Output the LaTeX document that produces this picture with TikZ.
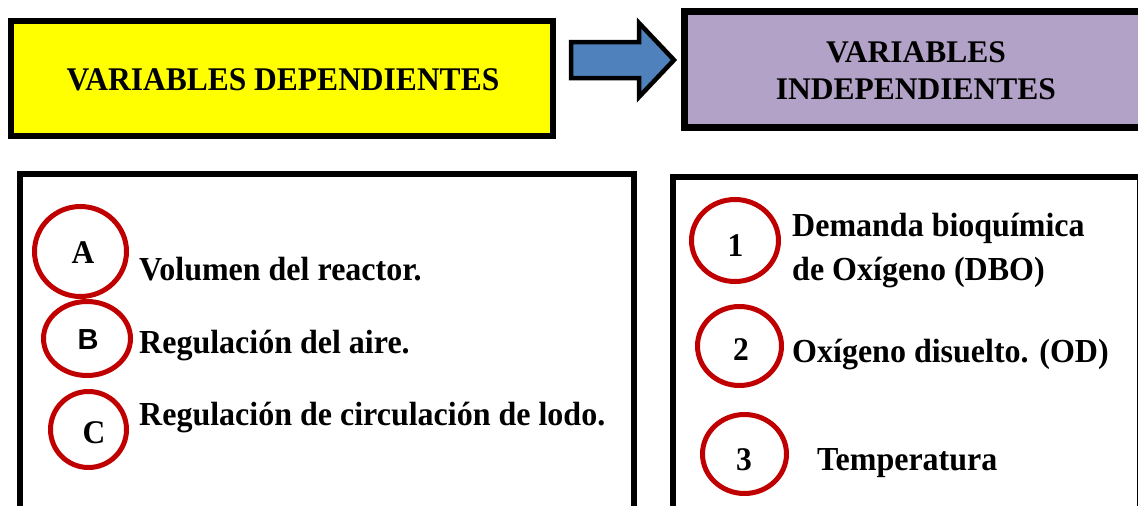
\documentclass[tikz,border=0pt]{standalone}
\usepackage{fontspec}
\usepackage{graphicx}
\setmainfont{Liberation Serif}
\newfontfamily\sansbf{Liberation Sans}
\usetikzlibrary{shapes.geometric}
\definecolor{ylw}{HTML}{FFFF00}
\definecolor{lila}{HTML}{B3A2C7}
\definecolor{azul}{HTML}{4F81BD}
\definecolor{rojo}{HTML}{C00000}
\newcommand{\tallbox}[1]{\scalebox{1}[1.05]{#1}}
\tikzset{
  hdrbox/.style={draw=black, line width=6.5pt},
  listbox/.style={draw=black, line width=6pt},
  ring/.style={ellipse, draw=rojo, line width=5pt, inner sep=0pt},
  txt/.style={anchor=base west, inner sep=0pt, font=\fontsize{32}{37}\selectfont\bfseries},
  lbl/.style={inner sep=0pt, font=\fontsize{31.5}{37}\selectfont\bfseries},
}
\begin{document}
\begin{tikzpicture}[x=1pt,y=-1pt]
\useasboundingbox (0,0) rectangle (1138,506);
% header boxes
\draw[hdrbox, fill=ylw] (11,21) rectangle (553,136);
\node[lbl] (dep) at (283,80) {\tallbox{VARIABLES DEPENDIENTES}};
\draw[hdrbox, fill=lila, line width=7pt] (684.5,11.5) rectangle (1160,127);
\node[lbl, align=center, font=\fontsize{31.5}{37}\selectfont\bfseries] (ind) at (916,71) {VARIABLES\\INDEPENDIENTES};
% arrow
\draw[black, line width=4.5pt, fill=azul, line join=miter]
  (571,42) -- (639,42) -- (639,23) -- (674,60) -- (639,97) -- (639,78) -- (571,78) -- cycle;
% list boxes
\draw[listbox] (20,174) rectangle (634,530);
\draw[listbox] (672.5,177) rectangle (1139.5,530);
% left items
\node[ring, minimum width=92pt, minimum height=90pt] (cA) at (80.5,251.5) {};
\node[lbl] (lA) at (83,253) {\tallbox{A}};
\node[txt] (tA) at (139,280) {\tallbox{Volumen del reactor.}};
\node[ring, minimum width=87pt, minimum height=74pt] (cB) at (87,338.5) {};
\node[lbl, font=\fontsize{29}{34}\selectfont\sansbf\bfseries] (lB) at (88,340) {B};
\node[txt] (tB) at (139,353) {\tallbox{Regulación del aire.}};
\node[ring, minimum width=76pt, minimum height=76pt] (cC) at (88.5,429.5) {};
\node[lbl] (lC) at (94,433) {\tallbox{C}};
\node[txt] (tC) at (139,425) {\tallbox{Regulación de circulación de lodo.}};
% right items
\node[ring, minimum width=87pt, minimum height=82pt] (c1) at (735,240.5) {};
\node[lbl] (l1) at (735.5,246) {\tallbox{1}};
\node[txt] (t1a) at (792,236) {\tallbox{Demanda bioquímica}};
\node[txt] (t1b) at (792,280) {\tallbox{de Oxígeno (DBO)}};
\node[ring, minimum width=84pt, minimum height=79pt] (c2) at (739.5,346) {};
\node[lbl] (l2) at (741,350) {\tallbox{2}};
\node[txt] (t2) at (792,362) {\tallbox{Oxígeno disuelto. (OD)}};
\node[ring, minimum width=84pt, minimum height=79pt] (c3) at (744.5,454) {};
\node[lbl] (l3) at (744,460) {\tallbox{3}};
\node[txt] (t3) at (817,470) {\tallbox{Temperatura}};
\end{tikzpicture}
\end{document}
